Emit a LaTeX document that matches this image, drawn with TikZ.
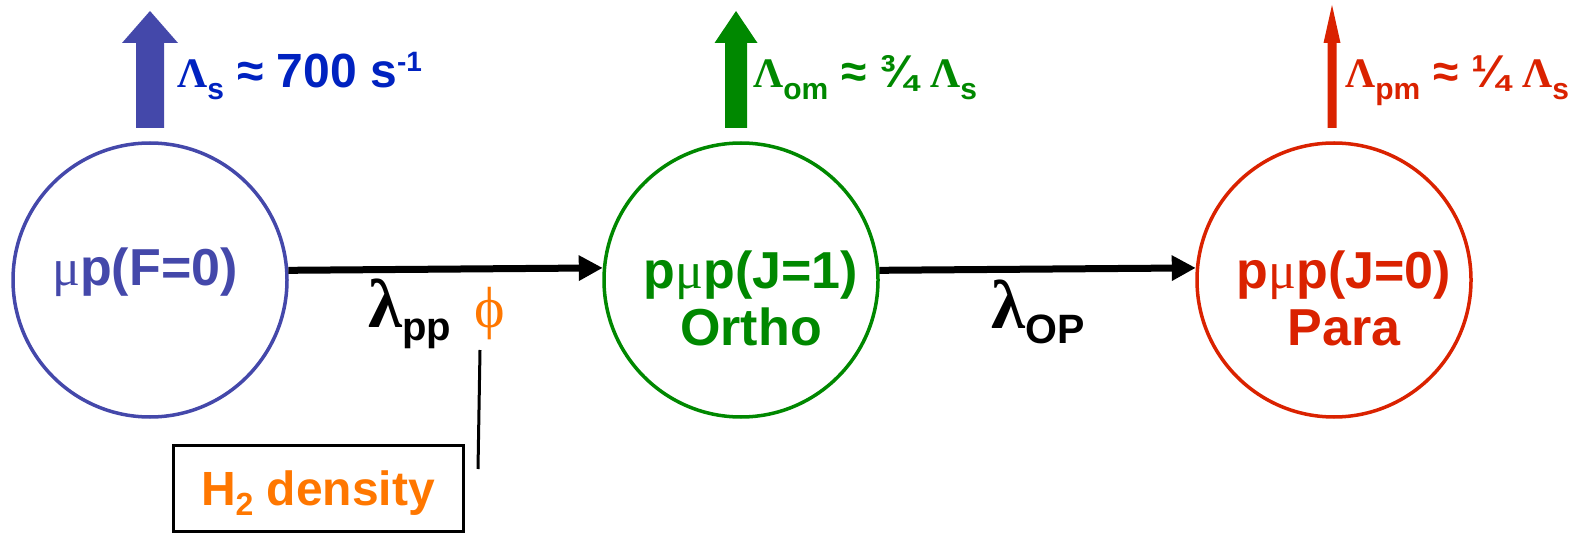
\documentclass[tikz,border=0pt]{standalone}
\usepackage{fontspec}
\setmainfont{Liberation Sans}
\newfontfamily\grk{Liberation Serif}
\usetikzlibrary{arrows.meta,calc}
\definecolor{cblue}{RGB}{68,72,170}
\definecolor{tblue}{RGB}{0,34,192}
\definecolor{cgreen}{RGB}{0,136,0}
\definecolor{cred}{RGB}{218,34,0}
\definecolor{corange}{RGB}{255,119,0}
\newcommand\fsz[1]{\fontsize{#1}{#1}\selectfont}
\newcommand\gL{{\grk\bfseries\fsz{42}Λ}}
\begin{document}
\begin{tikzpicture}[x=1pt,y=-1pt,
  state/.style={circle,draw,line width=3.5pt,minimum size=274pt,inner sep=0pt},
  stxt/.style={anchor=base,inner sep=0pt,font=\bfseries\fsz{52}},
  flow/.style={line width=7pt,-{Triangle[length=24pt,width=24pt]}},
  lbl/.style={anchor=base west,inner sep=0pt,font=\bfseries}]
\useasboundingbox (0,0) rectangle (1594,534);
% states
\node[state,cblue]  (c1) at (150,280) {};
\node[state,cgreen] (c2) at (741,280) {};
\node[state,cred]   (c3) at (1334,280) {};
\node[stxt,cblue]  (c1a) at (145,286) {{\grk\mdseries μ}p(F=0)};
\node[stxt,cgreen] (c2a) at (751,289) {p{\grk\mdseries μ}p(J=1)};
\node[stxt,cgreen] (c2b) at (751,345) {Ortho};
\node[stxt,cred]   (c3a) at (1344,289) {p{\grk\mdseries μ}p(J=0)};
\node[stxt,cred]   (c3b) at (1344,345) {Para};
% transitions
\draw[flow] (c1.4.6) -- (c2.175.4);
\draw[flow] (c2.4.6) -- (c3.175.4);
\node[lbl] (lpp) at (368,327) {{\grk\bfseries\fsz{69}λ}\raisebox{-13pt}{\fsz{40}pp}};
\node[lbl,corange] (phi) at (474,327) {{\grk\mdseries\fsz{58}ϕ}};
\node[lbl] (lop) at (991,328) {{\grk\bfseries\fsz{69}λ}\raisebox{-15pt}{\fsz{41}OP}};
% density box
\node[draw,line width=3pt,minimum width=290pt,minimum height=86pt,inner sep=0pt] (box) at (318,488) {};
\node[anchor=base,inner sep=0pt,corange,font=\bfseries\fsz{48}] (h2) at (318,505) {H\raisebox{-10pt}{\fsz{32}2} density};
\coordinate (p1) at (480,350);
\coordinate (p2) at (478,469);
\draw[line width=3pt] (p1) -- (p2);
% loss arrows
\coordinate (t1) at (150,11);
\coordinate (t2) at (736,11);
\coordinate (t3) at (1332,5);
\fill[cblue] (t1) -- ++(28,32) -- ++(-14,0) -- ++(0,85) -- ++(-28,0) -- ++(0,-85) -- ++(-14,0) -- cycle;
\fill[cgreen] (t2) -- ++(21.5,32) -- ++(-10.5,0) -- ++(0,85) -- ++(-22,0) -- ++(0,-85) -- ++(-10.5,0) -- cycle;
\fill[cred] (t3) -- ++(8.5,38) -- ++(-4,0) -- ++(0,85) -- ++(-9,0) -- ++(0,-85) -- ++(-4,0) -- cycle;
\node[lbl,tblue] (l1) at (177,88) {\gL\raisebox{-12pt}{\fsz{30}s}\fsz{48} ≈ 700 s\raisebox{16pt}{\fsz{28}-1}};
\node[lbl,cgreen] (l2) at (753,88) {\gL\raisebox{-12pt}{\fsz{30}om}\fsz{46} ≈ ¾ \gL\raisebox{-12pt}{\fsz{30}s}};
\node[lbl,cred] (l3) at (1345,88) {\gL\raisebox{-12pt}{\fsz{30}pm}\fsz{46} ≈ ¼ \gL\raisebox{-12pt}{\fsz{30}s}};
\end{tikzpicture}
\end{document}
